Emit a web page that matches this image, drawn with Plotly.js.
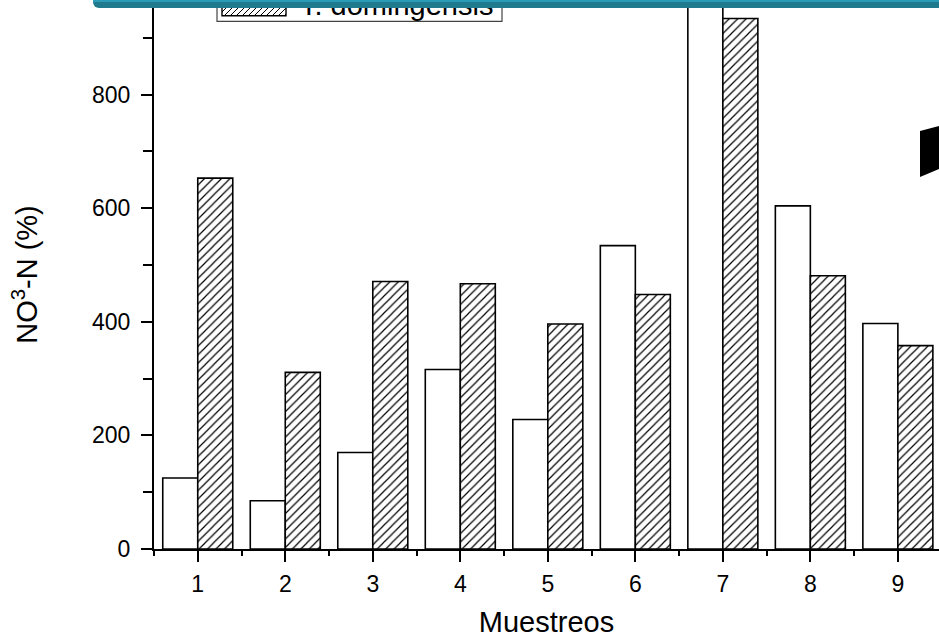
<!DOCTYPE html>
<html>
<head>
<meta charset="utf-8">
<script src="https://cdn.plot.ly/plotly-3.0.1.min.js"></script>
<style>
  html, body { margin: 0; padding: 0; background: #fff; }
  #wrap { position: relative; width: 939px; height: 640px; overflow: hidden; }
  #chart { width: 939px; height: 640px; }
  #topbar {
    position: absolute; left: 93px; top: 0; width: 846px; height: 8px;
    background: linear-gradient(#2b9bb6 0px, #2b9bb6 2px, #1f7a8d 2px, #1f7a8d 8px);
    border-bottom-left-radius: 6px;
  }
</style>
</head>
<body>
<div id="wrap">
  <div id="chart"></div>
  <div id="topbar"></div>
</div>
<script>
// Categories (Muestreos)
const muestreos = [1, 2, 3, 4, 5, 6, 7, 8, 9];
// First series (white bars, legend entry hidden in the reference)
const serie1 = [125, 85, 170, 316, 228, 534, 1000, 604, 397];
// T. domingensis (hatched bars)
const tDomingensis = [653, 311, 471, 467, 396, 448, 934, 481, 358];
const yTicks = [0, 200, 400, 600, 800];
const legendLabel = 'T. domingensis';

const FONT = 'Liberation Sans, Arial, Helvetica, sans-serif';

const traces = [
  {
    type: 'bar', name: 'Serie 1', showlegend: false,
    x: muestreos, y: serie1,
    marker: { color: '#ffffff', line: { color: '#000000', width: 1.6 } },
    hoverinfo: 'x+y'
  },
  {
    type: 'bar', name: legendLabel, showlegend: false,
    x: muestreos, y: tDomingensis,
    marker: {
      color: '#ffffff',
      line: { color: '#000000', width: 1.6 },
      pattern: { shape: '/', fgcolor: '#000000', bgcolor: '#ffffff', size: 6, solidity: 0.2 }
    },
    hoverinfo: 'x+y'
  }
];

// Manual legend (pixel offsets from the top-left corner of the plot area; up is positive)
const sw = { u0: 68, u1: 132, v0: -15.7, v1: 24 };
function hatchPath(r, step) {
  let d = '';
  for (let c = r.u0 - (r.v1 - r.v0); c < r.u1; c += step) {
    // line v - r.v0 = u - c  (45 degrees, rising to the right)
    let uStart = Math.max(r.u0, c);
    let uEnd = Math.min(r.u1, c + (r.v1 - r.v0));
    if (uEnd <= uStart) continue;
    const vS = r.v0 + (uStart - c), vE = r.v0 + (uEnd - c);
    d += `M${uStart.toFixed(2)},${vS.toFixed(2)}L${uEnd.toFixed(2)},${vE.toFixed(2)}`;
  }
  return d;
}
const pix = { xref: 'paper', yref: 'paper', xsizemode: 'pixel', ysizemode: 'pixel', xanchor: 0, yanchor: 1, layer: 'above' };

const layout = {
  width: 939, height: 640,
  margin: { l: 154, r: 0, t: 0, b: 91, autoexpand: false },
  paper_bgcolor: '#ffffff', plot_bgcolor: '#ffffff',
  font: { family: FONT, color: '#000000', size: 23 },
  barmode: 'group', bargap: 0.2, bargroupgap: 0,
  showlegend: false,
  xaxis: {
    range: [0.5, 9.47], tickvals: muestreos, ticktext: muestreos.map(String),
    showline: true, linecolor: '#000000', linewidth: 2,
    ticks: 'outside', ticklen: 11, tickwidth: 2, tickcolor: '#000000',
    minor: { dtick: 0.5, tick0: 0, ticks: 'outside', ticklen: 5, tickwidth: 2, tickcolor: '#000000', showgrid: false },
    showgrid: false, zeroline: false,
    tickfont: { family: FONT, size: 23 },
    ticklabelstandoff: 2,
    title: { text: 'Muestreos', font: { family: FONT, size: 29 }, standoff: 16 }
  },
  yaxis: {
    range: [0, 966.5], tickvals: yTicks,
    showline: true, linecolor: '#000000', linewidth: 2,
    ticks: 'outside', ticklen: 11, tickwidth: 2, tickcolor: '#000000',
    minor: { dtick: 100, tick0: 0, ticks: 'outside', ticklen: 9, tickwidth: 2, tickcolor: '#000000', showgrid: false },
    showgrid: false, zeroline: false,
    tickfont: { family: FONT, size: 23 },
    ticklabelstandoff: 6,
    title: { text: 'NO<sup>3</sup>-N (%)', font: { family: FONT, size: 29 }, standoff: 46 }
  },
  shapes: [
    Object.assign({ type: 'rect', x0: 63, x1: 348, y0: -21.3, y1: 40,
      fillcolor: '#ffffff', line: { color: '#444444', width: 1.2 } }, pix),
    Object.assign({ type: 'rect', x0: sw.u0, x1: sw.u1, y0: sw.v0, y1: sw.v1,
      fillcolor: '#ffffff', line: { color: '#000000', width: 1.4 } }, pix),
    Object.assign({ type: 'path', path: hatchPath(sw, 6),
      line: { color: '#000000', width: 1 } }, pix),
    {
      type: 'path', xref: 'paper', yref: 'paper', layer: 'above',
      path: 'M 0.9758 0.7614 L 1.0 0.7705 L 1.0 0.6922 L 0.9758 0.6776 Z',
      fillcolor: '#000000', line: { width: 0 }
    }
  ],
  annotations: [
    {
      text: legendLabel, xref: 'paper', yref: 'paper',
      x: (298 - 154) / 785, y: (549 - 5) / 549, xanchor: 'left', yanchor: 'middle',
      showarrow: false, font: { family: FONT, size: 29, color: '#000000' }
    }
  ]
};

Plotly.newPlot('chart', traces, layout, { displayModeBar: false, staticPlot: true });
</script>
</body>
</html>
